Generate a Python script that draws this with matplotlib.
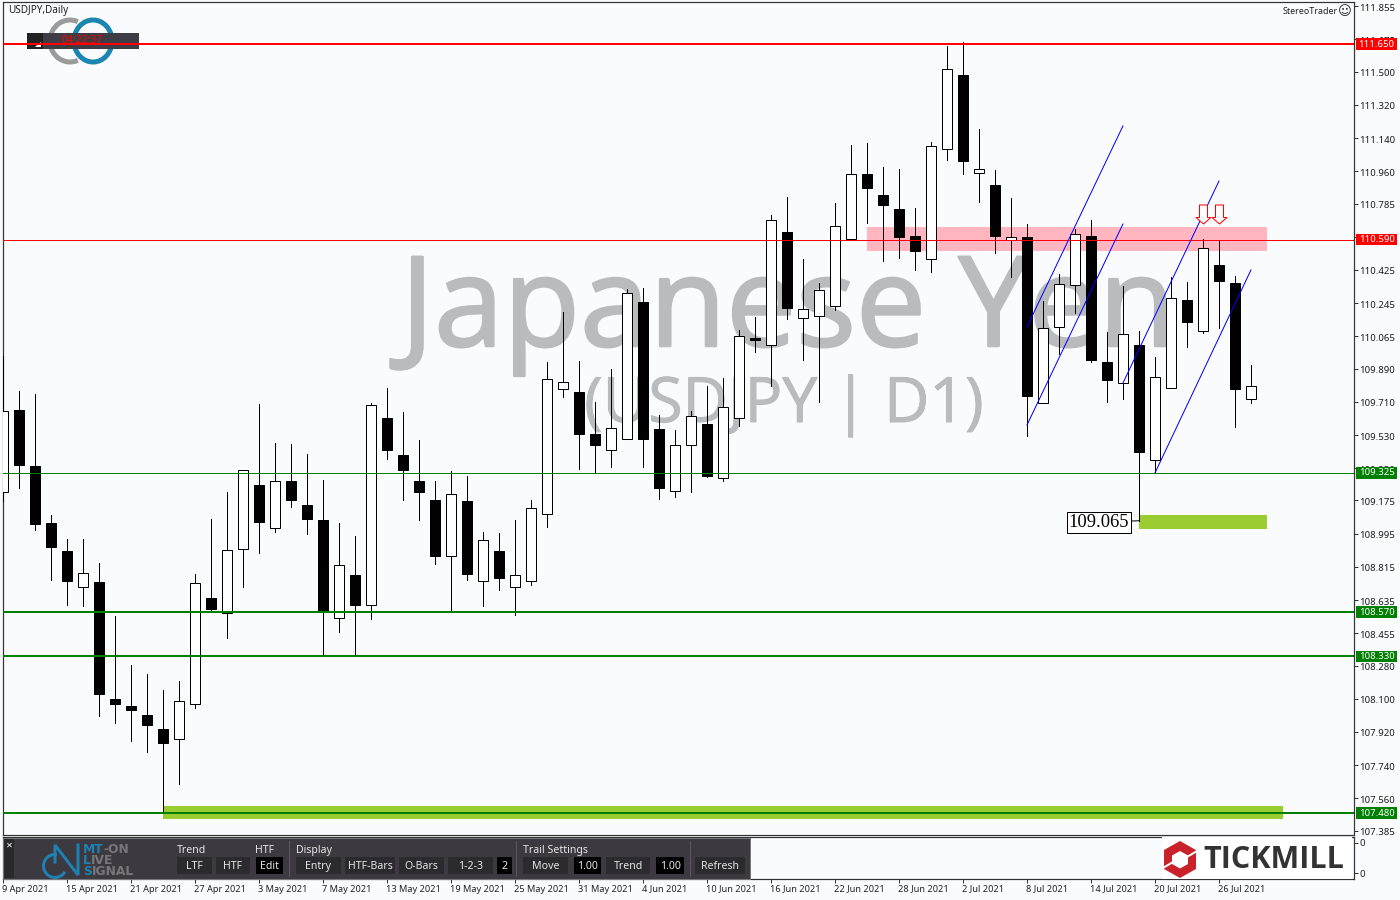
import matplotlib
matplotlib.use("Agg")
import matplotlib.pyplot as plt
import matplotlib.patheffects as pe
from matplotlib.patches import Rectangle, Polygon, Arc
from matplotlib.path import Path
from matplotlib.transforms import blended_transform_factory, ScaledTranslation

plt.rcParams["font.family"] = ["Noto Sans", "DejaVu Sans"]

# ---- data (one entry per daily bar, 9 Apr -> 28 Jul 2021)
opens = [109.221, 109.666, 109.362, 109.053, 108.902, 108.706, 108.734, 108.098, 108.060, 108.012,
         107.936, 107.882, 108.071, 108.647, 108.564, 108.913, 109.259, 109.026, 109.281, 109.151,
         109.070, 108.537, 108.772, 108.608, 109.622, 109.422, 109.281, 109.178, 108.874, 109.173,
         108.739, 108.902, 108.706, 108.739, 109.102, 109.779, 109.763, 109.536, 109.449, 109.508,
         110.251, 109.562, 109.226, 109.476, 109.590, 109.297, 109.622, 110.056, 110.018, 110.631,
         110.164, 110.175, 110.230, 110.593, 110.945, 110.831, 110.756, 110.609, 110.484, 111.081,
         111.482, 110.951, 110.886, 110.587, 110.604, 109.704, 110.116, 110.343, 110.609, 109.926,
         109.812, 110.018, 109.395, 109.785, 110.262, 110.094, 110.452, 110.354, 109.725]
highs = [109.958, 109.769, 109.752, 109.097, 108.967, 108.967, 108.836, 108.548, 108.283, 108.234,
         108.147, 108.196, 108.777, 109.075, 109.221, 109.340, 109.698, 109.487, 109.482, 109.427,
         109.286, 109.053, 108.983, 109.704, 109.785, 109.655, 109.503, 109.281, 109.335, 109.308,
         109.005, 109.000, 109.070, 109.178, 109.926, 110.197, 109.931, 109.709, 109.888, 110.322,
         110.327, 109.639, 109.557, 109.660, 109.796, 109.839, 110.099, 110.170, 110.723, 110.821,
         110.484, 110.354, 110.788, 111.103, 111.113, 110.983, 110.972, 110.761, 111.119, 111.639,
         111.661, 111.189, 110.967, 110.815, 110.674, 110.257, 110.403, 110.647, 110.696, 110.089,
         110.338, 110.094, 109.953, 110.387, 110.360, 110.593, 110.582, 110.392, 109.910]
lows = [109.173, 109.243, 109.015, 108.744, 108.608, 108.602, 108.006, 107.968, 107.871, 107.811,
        107.480, 107.638, 108.050, 108.575, 108.429, 108.706, 108.891, 109.005, 109.140, 108.994,
        108.337, 108.462, 108.342, 108.532, 109.400, 109.178, 109.070, 108.831, 108.570, 108.744,
        108.602, 108.690, 108.554, 108.717, 109.031, 109.736, 109.346, 109.324, 109.357, 109.508,
        109.357, 109.183, 109.194, 109.221, 109.302, 109.281, 109.579, 109.980, 109.796, 110.159,
        109.937, 109.709, 110.208, 110.593, 110.680, 110.474, 110.490, 110.425, 110.414, 111.021,
        110.945, 110.793, 110.517, 110.387, 109.525, 109.704, 109.969, 110.192, 109.926, 109.709,
        109.725, 109.064, 109.324, 109.785, 110.007, 110.083, 110.110, 109.573, 109.704]
closes = [109.660, 109.368, 109.048, 108.923, 108.739, 108.782, 108.125, 108.071, 108.039, 107.957,
          107.860, 108.088, 108.728, 108.586, 108.907, 109.340, 109.059, 109.281, 109.178, 109.075,
          108.570, 108.826, 108.608, 109.693, 109.449, 109.340, 109.221, 108.874, 109.210, 108.777,
          108.961, 108.755, 108.772, 109.134, 109.834, 109.817, 109.536, 109.476, 109.568, 110.300,
          109.508, 109.243, 109.476, 109.633, 109.308, 109.682, 110.067, 110.045, 110.696, 110.219,
          110.213, 110.316, 110.663, 110.945, 110.870, 110.777, 110.604, 110.528, 111.097, 111.515,
          111.016, 110.972, 110.609, 110.604, 109.741, 110.110, 110.349, 110.620, 109.937, 109.828,
          110.078, 109.438, 109.845, 110.273, 110.143, 110.544, 110.365, 109.779, 109.796]

date_labels = ["9 Apr 2021", "15 Apr 2021", "21 Apr 2021", "27 Apr 2021", "3 May 2021", "7 May 2021",
               "13 May 2021", "19 May 2021", "25 May 2021", "31 May 2021", "4 Jun 2021", "10 Jun 2021",
               "16 Jun 2021", "22 Jun 2021", "28 Jun 2021", "2 Jul 2021", "8 Jul 2021", "14 Jul 2021",
               "20 Jul 2021", "26 Jul 2021"]
price_ticks = [111.855, 111.675, 111.500, 111.320, 111.140, 110.960, 110.785, 110.605, 110.425,
               110.245, 110.065, 109.890, 109.710, 109.530, 109.350, 109.175, 108.995, 108.815,
               108.635, 108.455, 108.280, 108.100, 107.920, 107.740, 107.560, 107.385]

red_levels = [111.650, 110.590]
green_levels = [109.325, 108.570, 108.330, 107.480]
# level: line width in px
level_px = {111.650: 2, 110.590: 1, 109.325: 1, 108.570: 2, 108.330: 2, 107.480: 2}

# zones: first bar, last bar, top price, bottom price
pink_zone = (54, 79, 110.658, 110.528)
green_zone_a = (71, 79, 109.097, 109.021)
green_zone_b = (10, 80, 107.518, 107.448)

# blue channel lines: bar0, price0, bar1, price1
channels = [(64, 110.116, 70, 111.206), (64, 109.584, 70, 110.674),
            (70, 109.812, 76, 110.907), (72, 109.324, 78, 110.425)]
arrow_bars = [75, 76]
arrow_price = 110.728

BG = "#f9fbfd"
PX = 0.72  # one pixel in points at dpi 100
W, H = 1400, 900

fig = plt.figure(figsize=(14, 9), dpi=100, facecolor=BG)


def rect(x0, y0, x1, y1):
    return [x0 / W, 1 - y1 / H, (x1 - x0) / W, (y1 - y0) / H]


# ---- axes: lower panel, pixel overlay for the widgets, price chart on top
ax2 = fig.add_axes(rect(2.5, 837, 1354, 879), zorder=0, facecolor=BG)
ov = fig.add_axes([0, 0, 1, 1], zorder=1)
ov.set_xlim(0, W)
ov.set_ylim(H, 0)
ov.axis("off")
ax = fig.add_axes(rect(2.5, 2, 1354, 835), zorder=2)
ax.patch.set_visible(False)

# ---- price chart
ax.set_xlim(-0.03, 84.44)
ax.set_ylim(107.361, 111.878)

bars = list(range(len(opens)))
ax.text(0.2945, 0.587, "Japanese Yen", transform=ax.transAxes, ha="left", va="baseline",
        fontsize=90, family="Open Sans", color="#b9bbbc", zorder=1,
        path_effects=[pe.withStroke(linewidth=2.5 * PX, foreground="#b9bbbc")])
ax.text(0.4305, 0.4958, "(USDJPY | D1)", transform=ax.transAxes, ha="left", va="baseline",
        fontsize=45, family="Open Sans", color="#b9bbbc", zorder=1,
        path_effects=[pe.withStroke(linewidth=1 * PX, foreground="#b9bbbc")])

for (b0, b1, top, bot), col in [(pink_zone, "#ffb6c1"), (green_zone_a, "#9acd32"),
                                (green_zone_b, "#9acd32")]:
    ax.add_patch(Rectangle((b0, bot), b1 - b0, top - bot, facecolor=col, edgecolor="none", zorder=2))

ax.vlines(bars, lows, highs, color="black", linewidth=PX, antialiased=False, zorder=3)
for i in bars:
    up = closes[i] >= opens[i]
    ax.bar(i, abs(closes[i] - opens[i]), bottom=min(opens[i], closes[i]), width=0.625,
           color="white" if up else "black", edgecolor="black", linewidth=PX, zorder=3.5)

for lev in red_levels:
    ax.axhline(lev, color="#ff0000", linewidth=level_px[lev] * PX, zorder=4)
for lev in green_levels:
    ax.axhline(lev, color="#008000", linewidth=level_px[lev] * PX, zorder=4)

for b0, p0, b1, p1 in channels:
    ax.plot([b0, b1], [p0, p1], color="#0000ff", linewidth=PX, zorder=4.5)

arrow = Path([(-0.21, 0.5), (0.21, 0.5), (0.21, -0.16), (0.39, -0.16), (0, -0.5),
              (-0.39, -0.16), (-0.21, -0.16), (-0.21, 0.5)], closed=True)
for b in arrow_bars:
    ax.plot([b], [arrow_price], marker=arrow, markersize=19 * PX, markerfacecolor="white",
            markeredgecolor="#ff0000", markeredgewidth=PX, linestyle="none", zorder=5)

ax.annotate("109.065", xy=(71, 109.065), xytext=(-10 * PX, -1.5 * PX), textcoords="offset points",
            ha="right", va="center", fontsize=13.3, family="Liberation Serif", color="black",
            bbox=dict(boxstyle="square,pad=0.1", facecolor="white", edgecolor="black", linewidth=PX),
            arrowprops=dict(arrowstyle="-", color="black", lw=PX, shrinkA=0, shrinkB=0), zorder=6)

ax.yaxis.tick_right()
ax.set_yticks(price_ticks)
ax.set_yticklabels([f"{t:.3f}" for t in price_ticks])
ax.tick_params(axis="y", length=3, width=PX, color="#333333", labelsize=6.9, labelcolor="#1c1c1c", pad=0.8)
ax.set_xticks([])
down_1px = ScaledTranslation(0, -0.01, fig.dpi_scale_trans)
for lab in ax.get_yticklabels():
    lab.set_transform(lab.get_transform() + down_1px)
for sp in ax.spines.values():
    sp.set_color("#333333")
    sp.set_linewidth(PX * 1.2)

# price boxes on the right scale
trans = blended_transform_factory(ax.transAxes, ax.transData)
for lev in red_levels + green_levels:
    col = "#ff0000" if lev in red_levels else "#008000"
    ax.add_patch(Rectangle((1.0015, lev - 0.031), 0.0305, 0.062, transform=trans, facecolor=col,
                           edgecolor="none", clip_on=False, zorder=7))
    ax.text(1.0167, lev, f"{lev:.3f}", transform=trans, ha="center", va="center", fontsize=6.9,
            color="white", zorder=8, clip_on=False)

ov.text(8, 10.5, "USDJPY,Daily", fontsize=7.2, color="#222222", va="center")
ov.text(1283, 12, "StereoTrader", fontsize=6.4, color="#222222", va="center")
ov.text(1345, 12, "\u263a", fontsize=9.5, color="#222222", va="center", ha="center", family="DejaVu Sans")

# ---- lower panel
ax2.set_xlim(ax.get_xlim())
ax2.set_ylim(0, 1)
ax2.yaxis.tick_right()
ax2.set_yticks([0.14, 0.86])
ax2.set_yticklabels(["0", "0"])
ax2.set_xticks(range(0, 4 * len(date_labels), 4))
ax2.set_xticklabels(date_labels, ha="left")
ax2.tick_params(axis="x", length=3, width=PX, color="#333333", labelsize=6.6, labelcolor="#222222", pad=1)
ax2.tick_params(axis="y", length=3, width=PX, color="#333333", labelsize=7, labelcolor="#222222", pad=1)
left_1px = ScaledTranslation(-0.01, 0, fig.dpi_scale_trans)
for lab in ax2.get_xticklabels():
    lab.set_transform(lab.get_transform() + left_1px)
for sp in ax2.spines.values():
    sp.set_color("#333333")
    sp.set_linewidth(PX * 1.2)

# ---- top-left clock widget (sits under the red line)
ov.add_patch(Arc((70, 41), 40, 42, theta1=68, theta2=292, color="#9b9b9b", lw=5 * PX))
ov.add_patch(Arc((93, 41), 38, 42, theta1=0, theta2=360, color="#1b86b0", lw=5 * PX))
ov.add_patch(Rectangle((27, 33), 112, 16, facecolor="#3e3c44", edgecolor="none", zorder=3))
ov.add_patch(Rectangle((27, 33), 16, 16, facecolor="#222222", edgecolor="none", zorder=3))
ov.add_patch(Polygon([(35, 47), (41, 47), (41, 42)], facecolor="white", edgecolor="none", zorder=3))
ov.text(82, 40.5, "04:22:37", color="#ff0000", fontsize=7.5, fontweight="bold", ha="center",
        va="center", zorder=4)

# ---- bottom toolbar
ov.add_patch(Rectangle((3, 838), 747, 41, facecolor="#3c3a40", edgecolor="#77767a", linewidth=PX, zorder=2))
ov.add_patch(Rectangle((4, 839), 10, 39, facecolor="#29282c", edgecolor="none", zorder=2))
ov.text(9, 845, "\u2715", color="white", fontsize=6, ha="center", va="center", family="DejaVu Sans",
        fontweight="bold", zorder=5)

# small logo of the signal tool
ov.add_patch(Arc((55, 866), 23, 23, theta1=30, theta2=280, color="#1f80b2", lw=3 * PX, zorder=3))
ov.plot([55, 55, 78, 78], [862, 845, 875, 845], color="#1f80b2", lw=3 * PX, zorder=3, solid_joinstyle="miter")
for y, head, rest in [(849.5, "MT", "-ON"), (861, "L", "IVE"), (871.5, "S", "IGNAL")]:
    t = ov.text(83, y, head, color="#1f80b2", fontsize=8.8, fontweight="bold", va="center",
                family="DejaVu Sans", zorder=4)
    ov.annotate(rest, xycoords=t, xy=(1, 0.5), va="center", ha="left", color="#77777b", fontsize=8.8,
                fontweight="bold", family="DejaVu Sans", zorder=4)

for x, label in [(177, "Trend"), (255, "HTF"), (296, "Display"), (523, "Trail Settings")]:
    ov.text(x, 850.5, label, color="#e6e6e6", fontsize=7.6, va="center", zorder=4)
for x in [289, 516, 690]:
    ov.plot([x, x], [841, 876], color="#5a585e", lw=PX, zorder=3)

buttons = [(177, 212, "LTF", 0), (216, 250, "HTF", 0), (256, 283, "Edit", 1), (296, 341, "Entry", 0),
           (345, 395, "HTF-Bars", 0), (399, 444, "O-Bars", 0), (448, 493, "1-2-3", 0), (497, 512, "2", 1),
           (523, 568, "Move", 0), (574, 601, "1.00", 1), (606, 650, "Trend", 0), (656, 684, "1.00", 1),
           (695, 745, "Refresh", 0)]
for x0, x1, label, dark in buttons:
    ov.add_patch(Rectangle((x0, 857), x1 - x0, 17, facecolor="black" if dark else "#2b2a2e",
                           edgecolor="none", zorder=3))
    ov.text((x0 + x1) / 2, 866.5, label, color="#e6e6e6", fontsize=7.6, ha="center", va="center", zorder=4)

# ---- broker logo
ov.add_patch(Rectangle((1162, 837), 190, 41.5, facecolor="white", edgecolor="none", zorder=2))
ov.add_patch(Polygon([(1180, 841), (1196, 850), (1196, 869), (1180, 878), (1164, 869), (1164, 850)],
                     facecolor="#c9222a", edgecolor="none", zorder=3))
ov.add_patch(Polygon([(1180, 851), (1188, 855.5), (1188, 864), (1180, 868.5), (1172, 864), (1172, 855.5)],
                     facecolor="white", edgecolor="none", zorder=4))
ov.plot([1163, 1173], [868, 862], color="white", lw=2 * PX, zorder=4)
ov.plot([1187, 1197], [857, 851], color="white", lw=2 * PX, zorder=4)
ov.text(1203, 859.5, "TICKMILL", color="#333333", fontsize=22, fontweight="bold", family="Open Sans",
        va="center", ha="left", zorder=4)

fig.savefig("out.png", dpi=100, facecolor=BG)
